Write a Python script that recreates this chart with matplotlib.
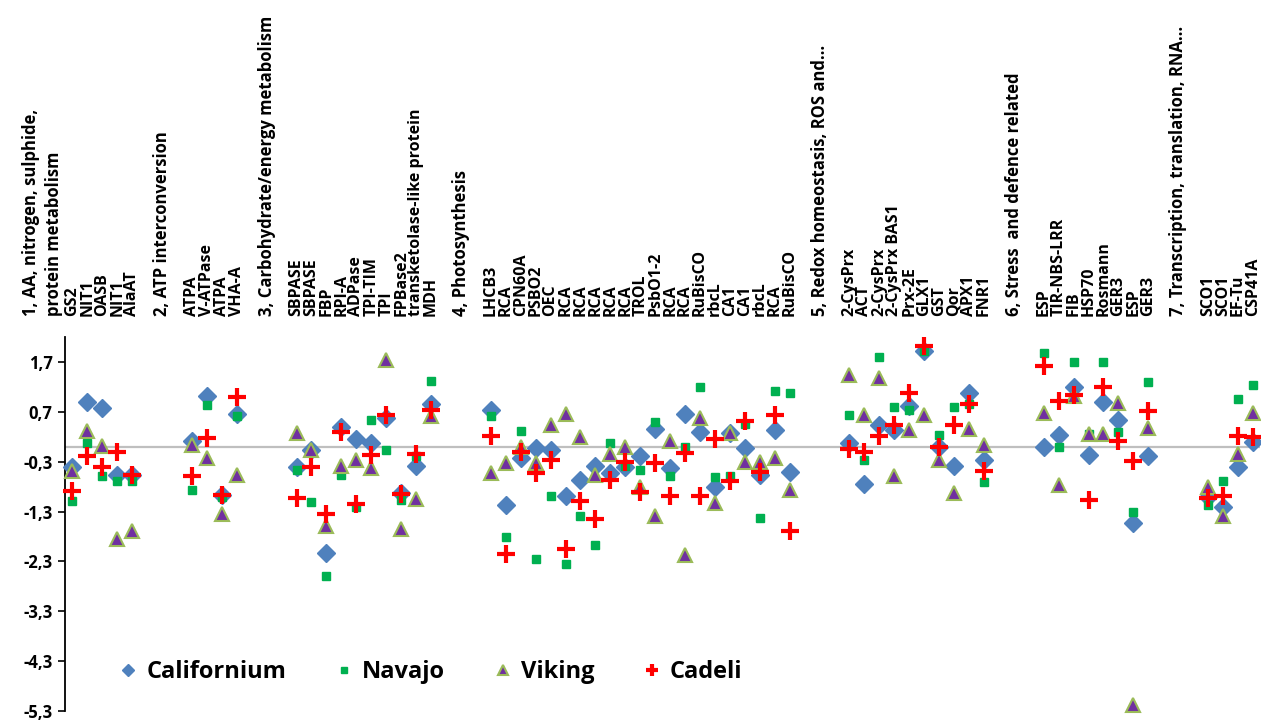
import numpy as np
import matplotlib
matplotlib.use("Agg")
import matplotlib.pyplot as plt
from matplotlib.transforms import blended_transform_factory
from matplotlib.lines import Line2D

plt.rcParams['font.family'] = ['Open Sans', 'DejaVu Sans']
plt.rcParams['font.weight'] = 'bold'

# ---------------- data ----------------
group_headers = [
    "1, AA, nitrogen, sulphide,\nprotein metabolism",
    "2, ATP interconversion",
    "3, Carbohydrate/energy metabolism",
    "4, Photosynthesis",
    "5, Redox homeostasis, ROS and\u2026",
    "6, Stress  and defence related",
    "7, Transcription, translation, RNA\u2026",
]
genes_g1 = ["GS2", "NIT1", "OASB", "NIT1", "AlaAT"]
genes_g2 = ["ATPA", "V-ATPase", "ATPA", "VHA-A"]
genes_g3 = ["SBPASE", "SBPASE", "FBP", "RPI-A", "ADPase", "TPI-TIM", "TPI",
            "FPBase2", "transketolase-like protein", "MDH"]
genes_g4 = ["LHCB3", "RCA", "CPN60A", "PSBO2", "OEC", "RCA", "RCA", "RCA", "RCA",
            "RCA", "TROL", "PsbO1-2", "RCA", "RCA", "RuBisCO", "rbcL", "CA1",
            "CA1", "rbcL", "RCA", "RuBisCO"]
genes_g5 = ["2-CysPrx", "ACT", "2-CysPrx", "2-CysPrx BAS1", "Prx-2E", "GLX1",
            "GST", "Qor", "APX1", "FNR1"]
genes_g6 = ["ESP", "TIR-NBS-LRR", "FIB", "HSP70", "Rosmann", "GER3", "ESP", "GER3"]
genes_g7 = ["SCO1", "SCO1", "EF-Tu", "CSP41A"]
gene_groups = [genes_g1, genes_g2, genes_g3, genes_g4, genes_g5, genes_g6, genes_g7]

californium = [-0.41, 0.89, 0.77, -0.57, -0.57,
               0.11, 1.01, -0.97, 0.65,
               -0.41, -0.07, -2.13, 0.39, 0.15, 0.07, 0.57, -0.93, -0.39, 0.85,
               0.74, -1.16, -0.23, -0.03, -0.06, -0.99, -0.66, -0.38, -0.53, -0.41,
               -0.19, 0.35, -0.43, 0.65, 0.29, -0.81, 0.27, -0.03, -0.57, 0.34, -0.51,
               0.07, -0.75, 0.44, 0.34, 0.82, 1.91, 0.00, -0.39, 1.07, -0.26,
               0.00, 0.24, 1.19, -0.16, 0.89, 0.53, -1.53, -0.18,
               -1.01, -1.21, -0.40, 0.09]
navajo = [-1.08, 0.07, -0.58, -0.69, -0.68,
          -0.87, 0.83, -1.00, 0.61,
          -0.47, -1.11, -2.59, -0.56, -1.20, 0.53, -0.06, -1.07, -0.18, 1.32,
          0.62, -1.81, 0.32, -2.26, -0.99, -2.35, -1.38, -1.97, 0.07, -0.38,
          -0.46, 0.49, -0.59, 0.00, 1.19, -0.61, -0.59, 0.45, -1.43, 1.12, 1.08,
          0.63, -0.27, 1.79, 0.80, 0.73, 1.92, 0.24, 0.79, 0.86, -0.71,
          1.87, -0.01, 1.70, 0.25, 1.69, 0.29, -1.31, 1.30,
          -1.17, -0.68, 0.95, 1.23]
viking = [-0.48, 0.32, 0.02, -1.85, -1.70,
          0.03, -0.23, -1.35, -0.57,
          0.27, -0.06, -1.59, -0.39, -0.27, -0.43, 1.74, -1.66, -1.05, 0.61,
          -0.53, -0.33, -0.01, -0.33, 0.43, 0.65, 0.19, -0.56, -0.15, 0.00,
          -0.80, -1.40, 0.12, -2.18, 0.57, -1.13, 0.27, -0.30, -0.30, -0.23, -0.87,
          1.43, 0.63, 1.37, -0.58, 0.34, 0.63, -0.27, -0.93, 0.35, 0.04,
          0.67, -0.76, 1.01, 0.25, 0.25, 0.87, -5.18, 0.37,
          -0.81, -1.38, -0.15, 0.67]
cadeli = [-0.88, -0.18, -0.41, -0.11, -0.56,
          -0.59, 0.17, -0.97, 0.99,
          -1.03, -0.40, -1.35, 0.30, -1.15, -0.17, 0.64, -0.95, -0.15, 0.73,
          0.21, -2.16, -0.11, -0.53, -0.26, -2.06, -1.08, -1.45, -0.67, -0.31,
          -0.91, -0.33, -0.99, -0.13, -0.99, 0.15, -0.68, 0.52, -0.50, 0.63, -1.69,
          -0.05, -0.11, 0.22, 0.44, 1.07, 2.01, -0.01, 0.44, 0.85, -0.48,
          1.62, 0.91, 1.03, -1.07, 1.19, 0.11, -0.28, 0.71,
          -1.03, -0.99, 0.22, 0.19]

series_names = ["Californium", "Navajo", "Viking", "Cadeli"]
yticks = [1.7, 0.7, -0.3, -1.3, -2.3, -3.3, -4.3, -5.3]

# ---------------- category layout (header, blank, genes, blank) ----------------
header_pos = []
gene_pos = []
gene_labels = []
k = 0
for hdr, genes in zip(group_headers, gene_groups):
    header_pos.append(k)
    k += 2
    for g in genes:
        gene_pos.append(k)
        gene_labels.append(g)
        k += 1
    k += 1
gene_pos = np.array(gene_pos)

fig = plt.figure(figsize=(12.61, 7.2), dpi=100)
ax = fig.add_axes([0.0515, 0.0125, 0.9480, 0.5195])
ax.set_xlim(1.5, 81.5)
ax.set_ylim(-5.3, 2.2)

ax.axhline(0, color='#BFBFBF', lw=1.6, zorder=1)

styles = [
    dict(marker='D', color='#4F81BD', ms=9, mec='#4F81BD', ls='none'),
    dict(marker='s', color='#00B050', ms=6, mec='#00B050', ls='none'),
    dict(marker='^', color='#7030A0', ms=10.5, mec='#9BBB59', mew=1.5, ls='none'),
    dict(marker='+', color='#FF0000', ms=12.5, mew=3.0, ls='none'),
]
for vals, st, name in zip([californium, navajo, viking, cadeli], styles, series_names):
    ax.plot(gene_pos, vals, zorder=3, **st, clip_on=False)

for sp in ['top', 'right', 'bottom']:
    ax.spines[sp].set_visible(False)
ax.spines['left'].set_linewidth(1.3)
ax.spines['left'].set_color('black')
ax.set_xticks([])
ax.set_yticks(yticks)
ax.set_yticklabels([f"{t:.1f}".replace('.', ',') for t in yticks],
                   fontsize=12, fontweight='bold')
ax.tick_params(axis='y', direction='out', length=5, width=1.2, pad=4)

trans = blended_transform_factory(ax.transData, fig.transFigure)
label_y = 0.561
for x, lab in zip(gene_pos, gene_labels):
    ax.text(x, label_y, lab, transform=trans, rotation=90, ha='center',
            va='bottom', fontsize=11.5, fontweight='bold', clip_on=False)
for x, hdr in zip(header_pos, group_headers):
    ax.text(x, label_y, hdr, transform=trans, rotation=90, ha='center',
            va='bottom', fontsize=12, fontweight='bold', clip_on=False,
            multialignment='left', linespacing=1.3)

handles = [Line2D([], [], **dict(st, ms=st['ms'] * 0.7)) for st in styles]
fig.legend(handles, series_names, loc='center left', bbox_to_anchor=(0.0755, 0.066),
           ncol=4, frameon=False, prop=dict(size=17, weight='bold'),
           handletextpad=0.26, columnspacing=1.95, handlelength=1.0)

fig.savefig('out.png', dpi=100)
